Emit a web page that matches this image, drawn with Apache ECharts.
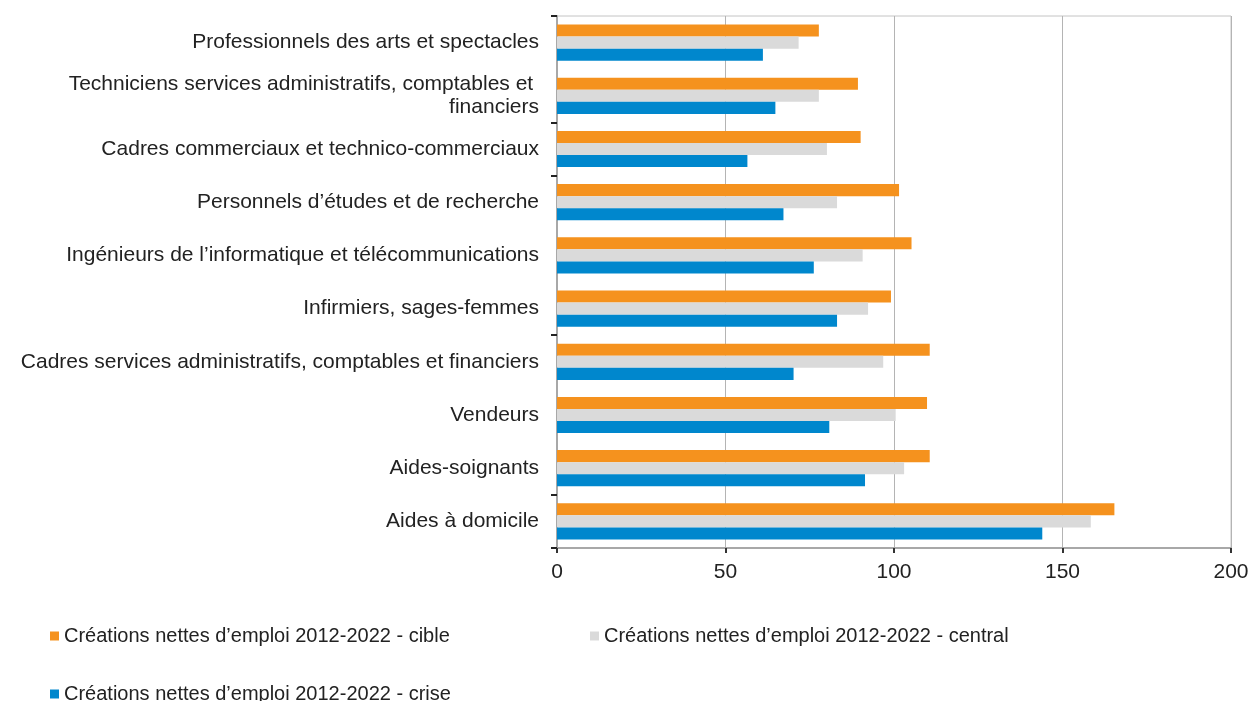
<!DOCTYPE html>
<html>
<head>
<meta charset="utf-8">
<script src="https://cdn.jsdelivr.net/npm/echarts@6/dist/echarts.min.js"></script>
<style>html,body{margin:0;padding:0;background:#fff;}#chart{width:1250px;height:701px;}</style>
</head>
<body>
<div id="chart"></div>
<script>
const categories = [
  "Professionnels des arts et spectacles",
  "Techniciens services administratifs, comptables et financiers",
  "Cadres commerciaux et technico-commerciaux",
  "Personnels d’études et de recherche",
  "Ingénieurs de l’informatique et télécommunications",
  "Infirmiers, sages-femmes",
  "Cadres services administratifs, comptables et financiers",
  "Vendeurs",
  "Aides-soignants",
  "Aides à domicile"
];
const seriesNames = [
  "Créations nettes d’emploi 2012-2022 - cible",
  "Créations nettes d’emploi 2012-2022 - central",
  "Créations nettes d’emploi 2012-2022 - crise"
];
const cible   = [77.7, 89.3, 90.1, 101.5, 105.2, 99.1, 110.6, 109.8, 110.6, 165.4];
const central = [71.7, 77.7, 80.1, 83.1, 90.7, 92.3, 96.8, 100.5, 103.0, 158.4];
const crise   = [61.1, 64.8, 56.5, 67.2, 76.2, 83.1, 70.2, 80.8, 91.4, 144.0];
const xTicks = [0, 50, 100, 150, 200];

const colors = ["#F5921E", "#DADADA", "#0087CD"];
const font = "'Liberation Sans', Arial, sans-serif";
const chart = echarts.init(document.getElementById('chart'));
const legendBase = {
  icon: 'rect', itemWidth: 9, itemHeight: 9, padding: 0,
  textStyle: { fontSize: 20, color: '#222', fontFamily: font }
};
chart.setOption({
  animation: false,
  color: colors,
  grid: { left: 557, right: 19, top: 16, bottom: 153, show: true, borderColor: '#C4C4C4', borderWidth: 1, outerBoundsMode: 'none', containLabel: false },
  legend: [
    Object.assign({ data: [seriesNames[0]], left: 50, top: 626 }, legendBase),
    Object.assign({ data: [seriesNames[1]], left: 590, top: 626 }, legendBase),
    Object.assign({ data: [seriesNames[2]], left: 50, top: 684 }, legendBase)
  ],
  xAxis: {
    type: 'value', min: xTicks[0], max: xTicks[xTicks.length - 1], interval: 50,
    axisLine: { show: true, lineStyle: { color: '#A8A8A8', width: 2 } },
    axisTick: { show: true, length: 5, lineStyle: { color: '#333', width: 2 } },
    axisLabel: { fontSize: 21, color: '#222', fontFamily: font, margin: 14 },
    splitLine: { show: true, lineStyle: { color: '#B4B4B4', width: 1 } }
  },
  yAxis: {
    type: 'category', data: categories, inverse: true,
    axisLine: { show: true, lineStyle: { color: '#A8A8A8', width: 2 } },
    axisTick: { show: true, length: 6, lineStyle: { color: '#222', width: 2 },
      interval: function (i) { return [0, 2, 3, 6, 9].indexOf(i) >= 0; } },
    axisLabel: { fontSize: 21, color: '#222', fontFamily: font, margin: 18,
      width: 545, overflow: 'break', lineHeight: 23, interval: 0 }
  },
  series: [
    { name: seriesNames[0], type: 'bar', data: cible, barGap: '0%', barCategoryGap: '32%' },
    { name: seriesNames[1], type: 'bar', data: central, barGap: '0%', barCategoryGap: '32%' },
    { name: seriesNames[2], type: 'bar', data: crise, barGap: '0%', barCategoryGap: '32%' }
  ]
});
</script>
</body>
</html>
